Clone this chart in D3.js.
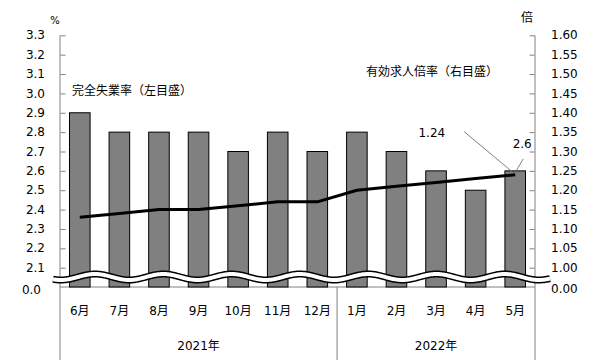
<!DOCTYPE html>
<html><head><meta charset="utf-8">
<script src="https://cdn.jsdelivr.net/npm/d3@7/dist/d3.min.js"></script>
<style>
html,body{margin:0;padding:0;background:#fff;}
text{font-family:"DejaVu Sans","Noto Sans CJK JP",sans-serif;fill:#000;}
</style></head>
<body>
<svg id="c" width="605" height="360"></svg>
<script>
const months = ["6月","7月","8月","9月","10月","11月","12月","1月","2月","3月","4月","5月"];
const unemployment = [2.9,2.8,2.8,2.8,2.7,2.8,2.7,2.8,2.7,2.6,2.5,2.6];
const jobRatio = [1.13,1.14,1.15,1.15,1.16,1.17,1.17,1.20,1.21,1.22,1.23,1.24];
const years = [{label:"2021年", from:"6月", to:"12月"},{label:"2022年", from:"1月", to:"5月"}];
const leftTicks = [2.1,2.2,2.3,2.4,2.5,2.6,2.7,2.8,2.9,3.0,3.1,3.2,3.3];
const rightTicks = [1.00,1.05,1.10,1.15,1.20,1.25,1.30,1.35,1.40,1.45,1.50,1.55,1.60];

const svg = d3.select("#c");
const L = 60, R = 535, T = 35.3, B = 287, BRK = 267.7, H = 360;

const x = d3.scaleBand().domain(months).range([L, R]).paddingInner(0.48).paddingOuter(0.24);
const yL = d3.scaleLinear().domain([0, 2.1, 3.3]).range([B, BRK, T]);
const yR = d3.scaleLinear().domain([0, 1.00, 1.60]).range([B, BRK, T]);
const step = x.step(), bw = x.bandwidth(), gap = (step - bw) / 2;
const grey = "#808080";

// axes lines
const g = svg.append("g");
g.append("line").attr("x1", L).attr("x2", L).attr("y1", T).attr("y2", H).attr("stroke", grey);
g.append("line").attr("x1", R).attr("x2", R).attr("y1", T).attr("y2", H).attr("stroke", grey);
g.append("line").attr("x1", L).attr("x2", R).attr("y1", B).attr("y2", B).attr("stroke", grey);

// left axis
const axL = svg.append("g").attr("transform", `translate(${L},0)`)
  .call(d3.axisLeft(yL).tickValues(leftTicks).tickSizeInner(-5).tickSizeOuter(0).tickPadding(15).tickFormat(d3.format(".1f")));
axL.select(".domain").remove();
axL.selectAll("line").attr("stroke", grey).attr("transform", "translate(0.5,0)");
axL.selectAll("text").attr("font-size", 12).attr("x", -15).attr("dy", "0.3em");

// right axis
const axR = svg.append("g").attr("transform", `translate(${R},0)`)
  .call(d3.axisRight(yR).tickValues(rightTicks).tickSizeInner(-5).tickSizeOuter(0).tickPadding(16).tickFormat(d3.format(".2f")));
axR.select(".domain").remove();
axR.selectAll("line").attr("stroke", grey).attr("transform", "translate(-0.5,0)");
axR.selectAll("text").attr("font-size", 12).attr("x", 16).attr("dy", "0.3em");

// zero labels
svg.append("text").attr("x", L - 19).attr("y", yL(0) + 3).attr("dy", "0.35em").attr("text-anchor", "end").attr("font-size", 12).text(d3.format(".1f")(0));
svg.append("text").attr("x", R + 16).attr("y", yR(0) + 2).attr("dy", "0.35em").attr("text-anchor", "start").attr("font-size", 12).text(d3.format(".2f")(0));

// unit labels
svg.append("text").attr("x", 55).attr("y", 24).attr("text-anchor", "middle").attr("font-size", 10).text("%");
svg.append("text").attr("x", 527).attr("y", 22).attr("text-anchor", "middle").attr("font-size", 12).text("倍");

// bars
svg.append("g").selectAll("rect").data(months).join("rect")
  .attr("x", d => x(d)).attr("width", bw)
  .attr("y", (d, i) => yL(unemployment[i])).attr("height", (d, i) => yL(0) - yL(unemployment[i]))
  .attr("fill", grey).attr("stroke", "#000").attr("stroke-width", 1);

// line
const line = d3.line().x((d, i) => x(months[i]) + bw / 2).y(d => yR(d));
svg.append("path").datum(jobRatio).attr("d", line).attr("fill", "none")
  .attr("stroke", "#000").attr("stroke-width", 3).attr("stroke-linejoin", "round").attr("stroke-linecap", "butt");

// break wave
const wx = d3.range(L - 7, R + 16, 1);
const waveLine = d3.line().x(d => d).y(d => 277 - 3 * Math.cos(2 * Math.PI * (d - 95) / 68.3)).curve(d3.curveBasis);
svg.append("path").attr("d", waveLine(wx)).attr("fill", "none").attr("stroke", "#000").attr("stroke-width", 7);
svg.append("path").attr("d", waveLine(wx)).attr("fill", "none").attr("stroke", "#fff").attr("stroke-width", 4);

// month labels
svg.append("g").selectAll("text").data(months).join("text")
  .attr("x", d => x(d) + bw / 2).attr("y", 315).attr("text-anchor", "middle").attr("font-size", 12).text(d => d);

// year groups
years.forEach((yr, i) => {
  const a = x(yr.from) - gap, b = x(yr.to) + bw + gap;
  svg.append("text").attr("x", (a + b) / 2).attr("y", 350).attr("text-anchor", "middle").attr("font-size", 12).text(yr.label);
  if (i > 0) svg.append("line").attr("x1", a).attr("x2", a).attr("y1", B).attr("y2", H).attr("stroke", grey);
});

// legend texts
svg.append("text").attr("x", 72).attr("y", 95).attr("font-size", 12).text("完全失業率（左目盛）");
svg.append("text").attr("x", 498).attr("y", 76).attr("text-anchor", "end").attr("font-size", 12).text("有効求人倍率（右目盛）");

// annotations for last point
const li = months.length - 1;
const xc = x(months[li]) + bw / 2;
const yl = yR(jobRatio[li]);
const yb = yL(unemployment[li]);
svg.append("line").attr("x1", xc - 51).attr("y1", yl - 43).attr("x2", xc - 3).attr("y2", yl - 3).attr("stroke", grey).attr("stroke-width", 1);
svg.append("text").attr("x", xc - 70).attr("y", yl - 38).attr("text-anchor", "end").attr("font-size", 12).text(d3.format(".2f")(jobRatio[li]));
svg.append("line").attr("x1", xc + 8).attr("y1", yb - 12).attr("x2", xc + 1).attr("y2", yb).attr("stroke", grey).attr("stroke-width", 1);
svg.append("text").attr("x", xc + 7).attr("y", yb - 23).attr("text-anchor", "middle").attr("font-size", 12).text(d3.format(".1f")(unemployment[li]));
</script>
</body></html>
